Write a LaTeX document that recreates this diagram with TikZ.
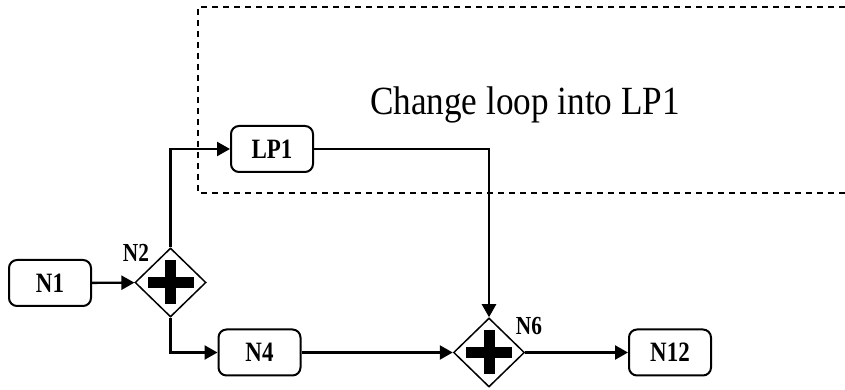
\documentclass[tikz,border=0pt]{standalone}
\usepackage{fontspec}
\setmainfont{Liberation Serif}
\newfontfamily\boxfont[FakeStretch=0.82]{Liberation Serif}
\newfontfamily\loopfont[FakeStretch=0.88]{Liberation Serif}
\usetikzlibrary{shapes.geometric,arrows.meta}
\tikzset{
  task/.style={draw, line width=2pt, rounded corners=8pt, minimum width=82pt,
    minimum height=46pt, inner sep=0pt, font=\boxfont\bfseries\fontsize{28}{28}\selectfont},
  gate/.style={draw, diamond, line width=1.5pt, minimum width=71pt, minimum height=69pt,
    inner sep=0pt},
  gatelabel/.style={font=\boxfont\bfseries\fontsize{26}{26}\selectfont, inner sep=0pt},
  flow/.style={line width=2.4pt, -{Triangle[length=13pt,width=14pt]}},
  hv/.style={to path={|- (\tikztotarget)}},
  vh/.style={to path={-| (\tikztotarget)}}
}
\newcommand{\plussign}[1]{%
  \fill (#1) ++(-23pt,-5.5pt) rectangle ++(46pt,11pt);
  \fill (#1) ++(-5.5pt,-22pt) rectangle ++(11pt,44pt);}
\begin{document}
\begin{tikzpicture}[x=1pt, y=1pt]
  \useasboundingbox (0,0) rectangle (845,390);
  \node at (50, 107) (N1) [task] {N1};
  \node at (170.5, 107.5) (N2) [gate] {};
  \node at (136, 137) (N2lbl) [gatelabel] {N2};
  \node at (272, 241) (LP1) [task] {LP1};
  \node at (259.5, 37.5) (N4) [task] {N4};
  \node at (489, 37.5) (N6) [gate] {};
  \node at (529, 64) (N6lbl) [gatelabel] {N6};
  \node at (670, 37.5) (N12) [task] {N12};
  \plussign{N2.center}
  \plussign{N6.center}

  % region that becomes LP1
  \draw[dashed, line width=1.2pt, dash pattern=on 6pt off 5pt]
    (845, 383) coordinate (boxtr) -- (198, 383) -- (198, 197) -- (845, 197) coordinate (boxbr);
  \node at (525, 275) (note) [anchor=base, font=\loopfont\fontsize{40}{40}\selectfont]
    {Change loop into LP1};

  \path[flow]
    (N1) edge (N2)
    (N2.north) edge [hv] (LP1.west)
    (N2.south) edge [hv] (N4.west)
    (LP1.east) edge [vh] (N6.north)
    (N4) edge (N6)
    (N6) edge (N12);
\end{tikzpicture}
\end{document}
